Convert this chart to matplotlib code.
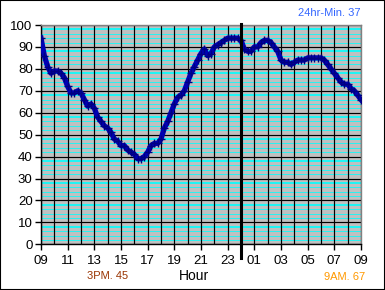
import matplotlib
matplotlib.use("Agg")
import matplotlib.pyplot as plt
from matplotlib.patches import Rectangle
from matplotlib.lines import Line2D

plt.rcParams['font.family'] = ['Liberation Sans', 'DejaVu Sans']

# hours since 09:00
hours = [i * 0.25 for i in range(97)]
temps = [94, 86, 81, 78, 79, 79, 78, 76, 72, 69, 69, 70, 69, 66, 63, 64,
         62, 58, 56, 54, 53, 51, 48, 47, 45, 45, 43, 42, 41, 39, 39, 40,
         42, 45, 46, 46, 48, 53, 56, 60, 64, 67, 68, 70, 74, 78, 81, 84,
         87, 89, 86, 87, 90, 91, 92, 93, 94, 94, 94, 94, 93, 89, 88, 88,
         90, 90, 92, 93, 93, 92, 90, 88, 84, 83, 83, 82, 83, 84, 84, 84,
         85, 85, 85, 85, 85, 84, 82, 80, 78, 76, 74, 73, 73, 71, 70, 68, 66]
tick_labels = ["09", "11", "13", "15", "17", "19", "21", "23", "01", "03", "05", "07", "09"]
y_ticks = [0, 10, 20, 30, 40, 50, 60, 70, 80, 90, 100]
midnight = 15
min_text = "24hr-Min. 37"
left_text = "3PM. 45"
right_text = "9AM. 67"
x_title = "Hour"

fig = plt.figure(figsize=(3.85, 2.90), dpi=100)
fig.patch.set_facecolor('white')
fig.patches.append(Rectangle((0, 0), 1, 1, transform=fig.transFigure,
                             fill=False, edgecolor='black', lw=1.5, zorder=10))

ax = fig.add_axes([41/385, (290-244.3)/290, 320/385, 219.3/290])
ax.set_facecolor('#C0C0C0')
ax.set_xlim(0, 24)
ax.set_ylim(0, 100)

# cyan minor lines
for base in range(0, 100, 10):
    for off in (2, 4, 6):
        ax.axhline(base + off, color='#00FFFF', lw=0.55, zorder=1)
    ax.axhline(base + 8, color='#00FFFF', lw=1.2, zorder=1)
# black grid
for v in y_ticks:
    ax.axhline(v, color='black', lw=0.85, zorder=2)
for h in range(25):
    ax.axvline(h, color='black', lw=0.85, zorder=2)

ax.plot(hours, temps, color='#0000B4', lw=3.8, zorder=4, solid_joinstyle='round')
ax.plot(hours, temps, ls='none', marker='+', ms=6, mew=1.0, color='#000080', zorder=5)

# midnight line
ax.add_line(Line2D([midnight, midnight], [-6.3, 100.6], color='black', lw=2.2,
                   clip_on=False, zorder=6))

ax.set_xticks(range(0, 25, 2))
ax.set_xticklabels(tick_labels)
ax.set_yticks(y_ticks)
ax.tick_params(axis='both', direction='out', length=4, width=1, colors='black',
               labelsize=9.5)
ax.tick_params(axis='x', pad=4)
ax.tick_params(axis='y', pad=2)
for s in ('left', 'bottom'):
    ax.spines[s].set_color('black')
    ax.spines[s].set_linewidth(1)
for s in ('top', 'right'):
    ax.spines[s].set_color('#808080')
    ax.spines[s].set_linewidth(1)

fig.text(193.5/385, 1 - 276/290, x_title, ha='center', va='center', fontsize=10)
fig.text(107.5/385, 1 - 276/290, left_text, ha='center', va='center',
         fontsize=8, color='#993300')
fig.text(344.5/385, 1 - 276.5/290, right_text, ha='center', va='center',
         fontsize=8, color='#FF9900')
fig.text(329/385, 1 - 13.5/290, min_text, ha='center', va='center',
         fontsize=8, color='#3366FF')

fig.savefig('out.png', dpi=100)
